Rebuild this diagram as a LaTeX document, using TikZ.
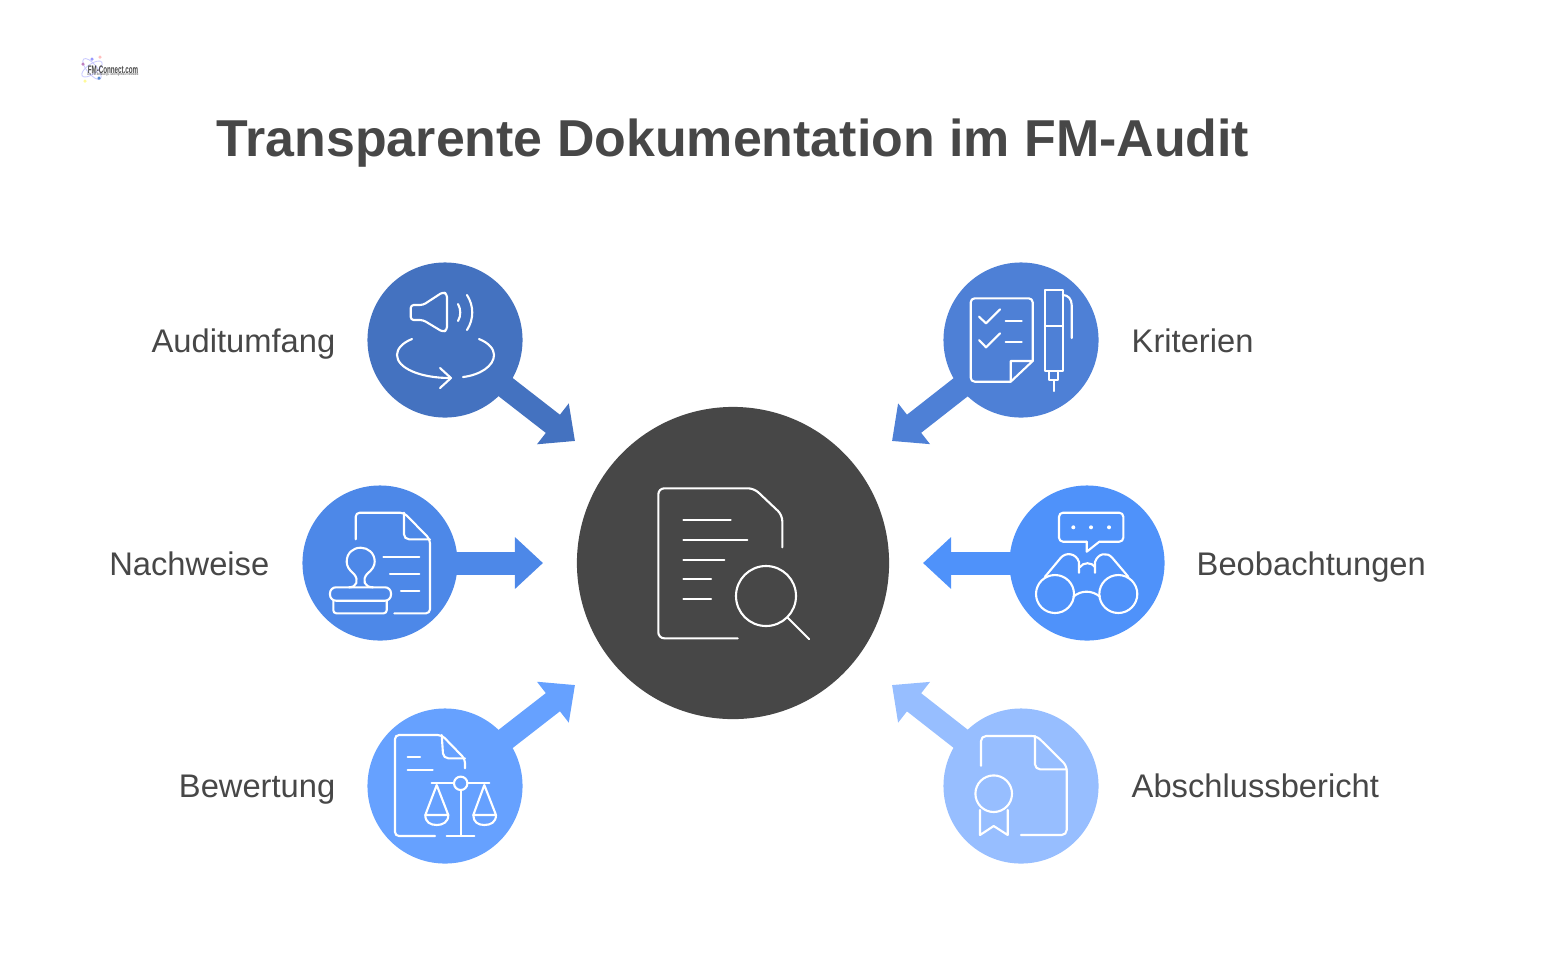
\documentclass[tikz,border=0pt]{standalone}
\usepackage{fontspec}
\setmainfont{Liberation Sans}
\usepackage{tikz}
\usetikzlibrary{arrows.meta}

\definecolor{darkgrey}{HTML}{474747}
\definecolor{blueA}{HTML}{4472C0}
\definecolor{blueB}{HTML}{4E80D6}
\definecolor{blueC}{HTML}{4D88E8}
\definecolor{blueD}{HTML}{4F92FA}
\definecolor{blueE}{HTML}{66A1FF}
\definecolor{blueF}{HTML}{97BEFF}

\begin{document}
\begin{tikzpicture}[
    x=0.01cm, y=-0.01cm,
    topic/.style={circle, inner sep=0pt, minimum size=1.55cm},
    hub/.style={circle, inner sep=0pt, minimum size=3.12cm, fill=darkgrey},
    arrow/.style={-{Triangle[length=0.28cm, width=0.5cm]}, line width=0.23cm},
    label/.style={font=\fontsize{9.3pt}{11pt}\selectfont, text=darkgrey, inner sep=0pt},
    icon/.style={draw=white, line width=0.6pt, line cap=round, line join=round},
    logodot/.style={circle, inner sep=0pt, minimum size=0.035cm}
]
    \useasboundingbox (0,0) rectangle (1558,969);

    % Title
    \node[font=\bfseries\fontsize{14.76pt}{17pt}\selectfont, text=darkgrey, inner sep=0pt, anchor=base] (title) at (733,156) {Transparente Dokumentation im FM-Audit};

    % Logo
    \draw[blue!20, line width=0.25pt, rotate around={35:(92,69)}] (92,69) ellipse (12 and 5);
    \draw[blue!20, line width=0.25pt, rotate around={-50:(92,69)}] (92,69) ellipse (13 and 5);
    \node[logodot, fill=violet!50] (dotA) at (83,64) {};
    \node[logodot, fill=blue!40] (dotB) at (92,59) {};
    \node[logodot, fill=pink] (dotC) at (100,57) {};
    \node[logodot, fill=cyan!50!blue!70] (dotD) at (99,78) {};
    \node[logodot, fill=yellow!40] (dotE) at (85,81) {};
    \node[font=\bfseries\fontsize{3.1pt}{3.5pt}\selectfont, text=darkgrey, inner sep=0pt] (logo) at (113,69.5) {\scalebox{0.57}[1]{FM-Connect.com}};
    \node[font=\fontsize{1pt}{1.2pt}\selectfont, text=darkgrey, inner sep=0pt] (logosub) at (113,75) {\scalebox{0.75}[1]{Die FM-Beratungs- und Ingenieur-Netzwerk}};

    % Center
    \node[hub] (center) at (733,563) {};

    % Circles
    \node[topic, fill=blueA] (audit) at (445,340) {};
    \node[topic, fill=blueB] (krit) at (1021,340) {};
    \node[topic, fill=blueC] (nach) at (380,563) {};
    \node[topic, fill=blueD] (beob) at (1087,563) {};
    \node[topic, fill=blueE] (bew) at (445,786) {};
    \node[topic, fill=blueF] (absch) at (1021,786) {};

    % Arrow ends
    \coordinate (auditEnd) at (575,441);
    \coordinate (kritEnd) at (892,441);
    \coordinate (nachEnd) at (543,563);
    \coordinate (beobEnd) at (923,563);
    \coordinate (bewEnd) at (575,685);
    \coordinate (abschEnd) at (892,685);

    % Arrows
    \draw[arrow, blueA] (audit.center) -- (auditEnd);
    \draw[arrow, blueB] (krit.center) -- (kritEnd);
    \draw[arrow, blueC] (nach.center) -- (nachEnd);
    \draw[arrow, blueD] (beob.center) -- (beobEnd);
    \draw[arrow, blueE] (bew.center) -- (bewEnd);
    \draw[arrow, blueF] (absch.center) -- (abschEnd);

    % Labels
    \node[label, anchor=base east] (auditText) at (336,352) {Auditumfang};
    \node[label, anchor=base east] (nachText) at (270,575) {Nachweise};
    \node[label, anchor=base east] (bewText) at (336,797) {Bewertung};
    \node[label, anchor=base west] (kritText) at (1131,352) {Kriterien};
    \node[label, anchor=base west] (beobText) at (1196,575) {Beobachtungen};
    \node[label, anchor=base west] (abschText) at (1131,797) {Abschlussbericht};

    % Center icon
    \draw[icon, rounded corners=0.06cm] (737.7,638.3) -- (658.3,638.3) -- (658.3,488.3) -- (754,488.3) -- (782.3,515) -- (782.3,547.3);
    \draw[icon] (683.3,520.3) -- (730.7,520.3);
    \draw[icon] (683.3,540) -- (747.3,540);
    \draw[icon] (683.3,559.7) -- (724.3,559.7);
    \draw[icon] (683.3,579.3) -- (711,579.3);
    \draw[icon] (683.3,599) -- (711,599);
    \draw[icon] (766,596) circle (30);
    \draw[icon] (787.7,617.7) -- (809,639);

    % Speaker icon
    \draw[icon, rounded corners=0.03cm] (410.7,305) -- (410.7,320) -- (423,320) -- (443,332) -- (447,330) -- (447,294) -- (443,292) -- (423,305) -- cycle;
    \draw[icon] (458,304) .. controls (461,309) and (461,316) .. (458,321);
    \draw[icon] (467,295) .. controls (474,306) and (474,319) .. (467,330);
    \draw[icon] (412,339) .. controls (402,343) and (397,349) .. (397,355) .. controls (397,368) and (420,378) .. (450,378);
    \draw[icon] (440,368) -- (451,378) -- (440,388);
    \draw[icon] (479,339) .. controls (489,343) and (494,349) .. (494,355) .. controls (494,366) and (480,375) .. (463,377);

    % Checklist icon
    \draw[icon, rounded corners=0.04cm] (1010.7,381.7) -- (970.7,381.7) -- (970.7,298.3) -- (1032.7,298.3) -- (1032.7,361);
    \draw[icon] (1032.7,361) -- (1010.7,381.7) -- (1010.7,361) -- cycle;
    \draw[icon] (979,316.7) -- (986,323.3) -- (1000,309.3);
    \draw[icon] (979,340) -- (986,347.3) -- (1000,333.3);
    \draw[icon] (1005.7,321) -- (1021.7,321);
    \draw[icon] (1005.7,342.3) -- (1021.7,342.3);
    \draw[icon] (1045,290) rectangle (1062.7,371);
    \draw[icon] (1045,325.7) -- (1062.7,325.7);
    \draw[icon] (1062.7,295) .. controls (1068,295) and (1071.7,299) .. (1071.7,305) -- (1071.7,338);
    \draw[icon] (1049.3,371) -- (1049.3,380) -- (1057.7,380) -- (1057.7,371);
    \draw[icon] (1053.7,380) -- (1053.7,391);

    % Stamp icon
    \draw[icon, rounded corners=0.04cm] (355.7,539.3) -- (355.7,512.7) -- (404,512.7) -- (430,539.3) -- (430,613.3) -- (394.3,613.3);
    \draw[icon, rounded corners=0.05cm] (404,512.7) -- (404,539.3) -- (430,539.3);
    \draw[icon] (383.3,556.7) -- (419.3,556.7);
    \draw[icon] (390,574) -- (419.3,574);
    \draw[icon] (401,591) -- (419.3,591);
    \draw[icon, rounded corners=0.06cm] (330,587.3) rectangle (391,600.7);
    \draw[icon, rounded corners=0.03cm] (333.3,600.7) -- (333.3,613.3) -- (386.7,613.3) -- (386.7,600.7);
    \draw[icon] (349,587.3) .. controls (357,587.3) and (359,580) .. (354,574) .. controls (349,570) and (346.7,566) .. (346.7,561.7) .. controls (346.7,553) and (353,547.7) .. (360.7,547.7) .. controls (368,547.7) and (374.7,553) .. (374.7,561.7) .. controls (374.7,566) and (372,570) .. (367,574) .. controls (362,580) and (364,587.3) .. (373,587.3);

    % Binoculars icon
    \draw[icon, rounded corners=0.04cm] (1086.7,541.7) -- (1059,541.7) -- (1059,512.7) -- (1123.3,512.7) -- (1123.3,541.7) -- (1099.3,541.7);
    \draw[icon] (1086.7,541.7) -- (1086.7,551.7) -- (1099.3,541.7);
    \fill[white] (1073.3,527.3) circle (2);
    \fill[white] (1091,527.3) circle (2);
    \fill[white] (1109,527.3) circle (2);
    \draw[icon] (1055,594) circle (19);
    \draw[icon] (1118.3,594) circle (19);
    \draw[icon] (1073.3,596.7) .. controls (1081,590) and (1092,590) .. (1100,596.7);
    \draw[icon] (1045,576.7) -- (1061,557.5) .. controls (1066,552) and (1076,553) .. (1079,562) -- (1079,572.7);
    \draw[icon] (1128.3,576.7) -- (1112,557.5) .. controls (1107,552) and (1098,553) .. (1095,562) -- (1095,572.7);
    \draw[icon] (1080,567) .. controls (1083,562) and (1092,562) .. (1095,567);

    % Scales icon
    \draw[icon, rounded corners=0.04cm] (435,836) -- (395,836) -- (395,735) -- (441.7,735) -- (465,759) -- (465,768.3);
    \draw[icon, rounded corners=0.05cm] (441.7,735) -- (443.3,758.3) -- (465,758.3);
    \draw[icon] (407.7,756.7) -- (420,756.7);
    \draw[icon] (407.7,770.3) -- (432.7,770.3);
    \draw[icon] (460.7,783.3) circle (6.7);
    \draw[icon] (431.7,783.3) -- (454,783.3);
    \draw[icon] (467.3,783.3) -- (489.3,783.3);
    \draw[icon] (460.7,790) -- (460.7,836);
    \draw[icon] (446.7,836) -- (474.3,836);
    \draw[icon] (448.3,815) -- (436.7,785) -- (425.3,815) -- cycle;
    \draw[icon] (425.3,815) .. controls (425.3,822) and (430,825) .. (436.7,825) .. controls (443,825) and (448.3,822) .. (448.3,815);
    \draw[icon] (496,815) -- (484.3,785) -- (473.3,815) -- cycle;
    \draw[icon] (473.3,815) .. controls (473.3,822) and (478,825) .. (484.3,825) .. controls (491,825) and (496,822) .. (496,815);

    % Certificate icon
    \draw[icon, rounded corners=0.05cm] (981,765.7) -- (981,736) -- (1036.7,736) -- (1066.7,765.7) -- (1066.7,835) -- (1021,835);
    \draw[icon, rounded corners=0.05cm] (1035,736) -- (1035,769.3) -- (1066.7,769.3);
    \draw[icon] (993.7,793.7) circle (18.3);
    \draw[icon] (980,810) -- (980,835) -- (993.7,826) -- (1007.7,835) -- (1007.7,810);

\end{tikzpicture}
\end{document}
